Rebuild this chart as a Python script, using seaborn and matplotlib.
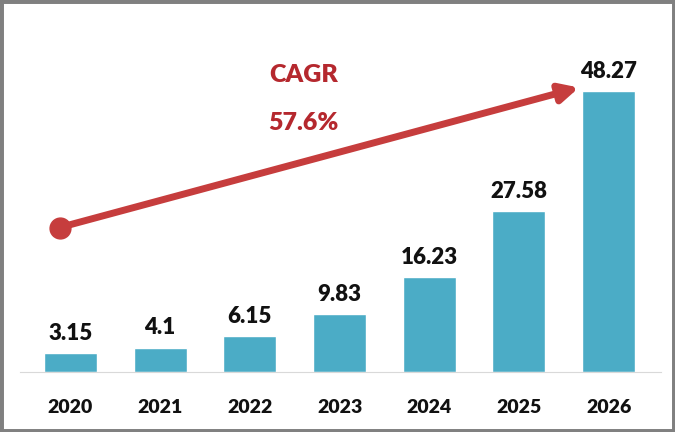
import matplotlib
matplotlib.use("Agg")
import matplotlib.pyplot as plt
import seaborn as sns
import pandas as pd
from matplotlib.patches import Rectangle

# data
years = ["2020", "2021", "2022", "2023", "2024", "2025", "2026"]
values = [3.15, 4.1, 6.15, 9.83, 16.23, 27.58, 48.27]
value_labels = ["3.15", "4.1", "6.15", "9.83", "16.23", "27.58", "48.27"]
cagr_text = "CAGR"
cagr_value = "57.6%"

df = pd.DataFrame({"year": years, "value": values})

sns.set_style("white")
plt.rcParams["font.family"] = ["Lato", "DejaVu Sans"]

fig = plt.figure(figsize=(6.75, 4.32), dpi=100)
ax = fig.add_axes([0.03, 0.14, 0.95, 0.82])

sns.barplot(data=df, x="year", y="value", color="#4BACC6", width=0.59,
            saturation=1, ax=ax)

for i, (v, lab) in enumerate(zip(values, value_labels)):
    ax.text(i, v + 1.6, lab, ha="center", va="bottom", fontsize=16,
            fontweight="heavy", color="#111111")

ax.set_ylim(0, 61)
ax.set_xlim(-0.56, 6.59)
ax.set_xlabel("")
ax.set_ylabel("")
ax.set_yticks([])
for s in ["top", "right", "left"]:
    ax.spines[s].set_visible(False)
ax.spines["bottom"].set_color("#D9D9D9")
ax.tick_params(axis="x", length=0, pad=20)
for t in ax.get_xticklabels():
    t.set_fontsize(14)
    t.set_fontweight("heavy")
    t.set_color("#111111")

# growth arrow
red = "#C63D3D"
ax.annotate("", xy=(5.67, 48.9), xytext=(-0.12, 24.8),
            arrowprops=dict(arrowstyle="-|>,head_length=1.1,head_width=0.55",
                            color=red, lw=5, shrinkA=0, shrinkB=0))
ax.plot([-0.12], [24.8], "o", color=red, markersize=15, zorder=5)

ax.text(2.6, 51.0, cagr_text, ha="center", va="center", fontsize=18,
        fontweight="heavy", color="#B5282E")
ax.text(2.6, 42.8, cagr_value, ha="center", va="center", fontsize=18,
        fontweight="heavy", color="#B5282E")

fig.patches.append(Rectangle((0, 0), 1, 1, transform=fig.transFigure,
                             fill=False, edgecolor="#808080", linewidth=5))

fig.savefig("out.png", dpi=100)
